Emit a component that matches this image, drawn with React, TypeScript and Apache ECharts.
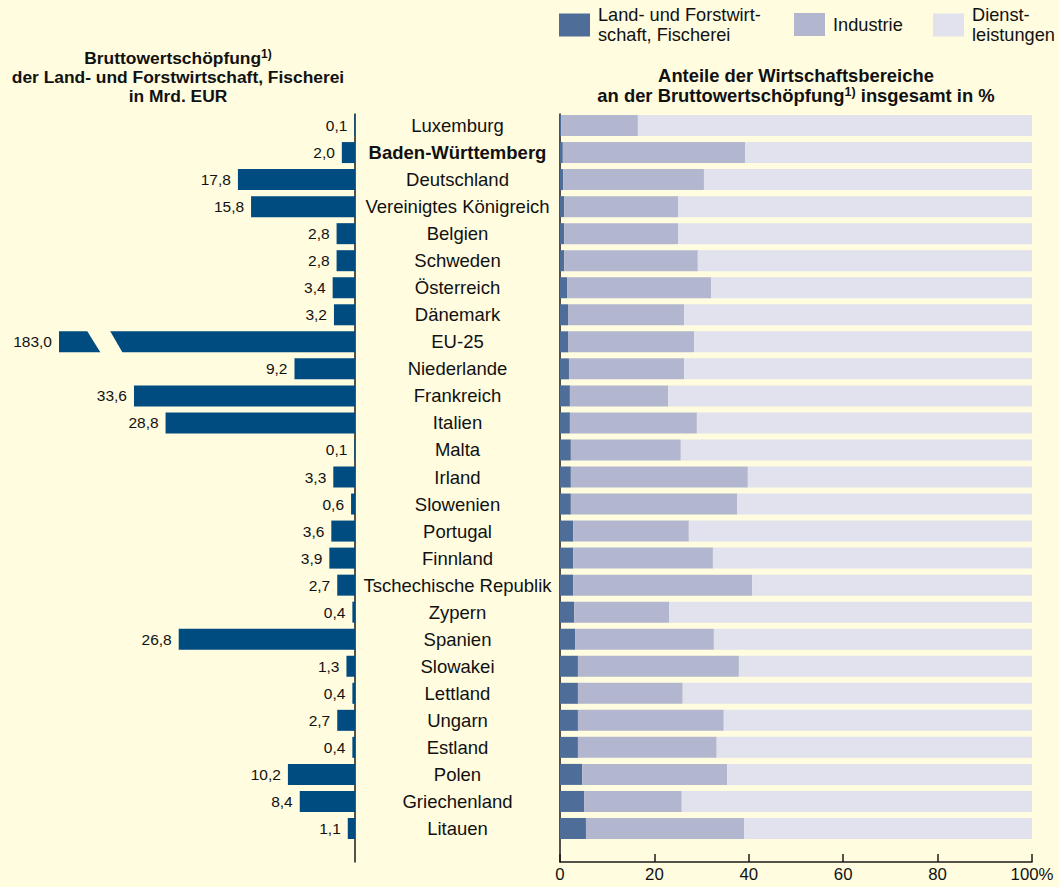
import React, { useEffect, useRef } from "react";
import * as echarts from "echarts";

const categories = [
  "Luxemburg",
  "Baden-Württemberg",
  "Deutschland",
  "Vereinigtes Königreich",
  "Belgien",
  "Schweden",
  "Österreich",
  "Dänemark",
  "EU-25",
  "Niederlande",
  "Frankreich",
  "Italien",
  "Malta",
  "Irland",
  "Slowenien",
  "Portugal",
  "Finnland",
  "Tschechische Republik",
  "Zypern",
  "Spanien",
  "Slowakei",
  "Lettland",
  "Ungarn",
  "Estland",
  "Polen",
  "Griechenland",
  "Litauen",
];

// Bruttowertschöpfung der Land- und Forstwirtschaft, Fischerei in Mrd. EUR
const valueMrd = [
  0.1, 2.0, 17.8, 15.8, 2.8, 2.8, 3.4, 3.2, 183.0, 9.2, 33.6, 28.8, 0.1, 3.3,
  0.6, 3.6, 3.9, 2.7, 0.4, 26.8, 1.3, 0.4, 2.7, 0.4, 10.2, 8.4, 1.1,
];

// Anteile in %
const landShare = [
  0.3, 0.6, 0.7, 0.9, 0.9, 0.9, 1.5, 1.7, 1.7, 1.9, 2.1, 2.1, 2.3, 2.3, 2.3,
  2.8, 2.8, 2.8, 3.0, 3.2, 3.8, 3.8, 3.8, 3.8, 4.7, 5.1, 5.5,
];
const industryShare = [
  16.2, 38.6, 29.8, 24.1, 24.1, 28.3, 30.5, 24.6, 26.7, 24.4, 20.8, 26.9, 23.3,
  37.5, 35.2, 24.5, 29.6, 37.9, 20.1, 29.4, 34.1, 22.2, 30.9, 29.4, 30.7, 20.7,
  33.5,
];
const serviceShare = [
  83.5, 60.8, 69.5, 75.0, 75.0, 70.8, 68.0, 73.7, 71.6, 73.7, 77.1, 71.0, 74.4,
  60.2, 62.5, 72.7, 67.6, 59.3, 76.9, 67.4, 62.1, 74.0, 65.3, 66.8, 64.6, 74.2,
  61.0,
];

const percentTicks = [0, 20, 40, 60, 80, 100];
const seriesNames = [
  "Land- und Forstwirtschaft, Fischerei",
  "Industrie",
  "Dienstleistungen",
];
const legendLabels: Record<string, string> = {
  "Land- und Forstwirtschaft, Fischerei": "Land- und Forstwirt-\nschaft, Fischerei",
  Industrie: "Industrie",
  Dienstleistungen: "Dienst-\nleistungen",
};

const LEFT_MAX = 45;
const BREAK_AT = 38;
const BG = "#fffce0";
const FONT = "'Liberation Sans', Arial, Helvetica, sans-serif";
const TXT = "#111111";
const AXIS = "#1a1a1a";
const C_LEFT = "#004b80";
const C_LAND = "#4f6d99";
const C_IND = "#b2b7cf";
const C_SERV = "#e1e2ee";

export default function App() {
  const ref = useRef<HTMLDivElement>(null);

  useEffect(() => {
    if (!ref.current) return;
    const chart = echarts.init(ref.current, undefined, { renderer: "svg" });

    const legendBase = {
      orient: "horizontal" as const,
      icon: "rect",
      itemWidth: 31,
      itemHeight: 23,
      padding: 0,
      selectedMode: false,
      formatter: (n: string) => legendLabels[n] ?? n,
    };

    const option: any = {
      animation: false,
      backgroundColor: BG,
      textStyle: { fontFamily: FONT },
      title: [
        {
          left: 178,
          top: 48,
          textAlign: "center",
          padding: 0,
          text:
            "{b|Bruttowertschöpfung}{s|1)}\n{b|der Land- und Forstwirtschaft, Fischerei}\n{b|in Mrd. EUR}",
          textStyle: {
            rich: {
              b: { fontSize: 17.4, fontWeight: "bold", fontFamily: FONT, color: TXT, lineHeight: 19 },
              s: { fontSize: 12, fontWeight: "bold", fontFamily: FONT, color: TXT, lineHeight: 12, verticalAlign: "top" },
            },
          },
        },
        {
          left: 796,
          top: 66,
          textAlign: "center",
          padding: 0,
          text:
            "{b|Anteile der Wirtschaftsbereiche}\n{b|an der Bruttowertschöpfung}{s|1)}{b| insgesamt in %}",
          textStyle: {
            rich: {
              b: { fontSize: 18.4, fontWeight: "bold", fontFamily: FONT, color: TXT, lineHeight: 19.8 },
              s: { fontSize: 12.5, fontWeight: "bold", fontFamily: FONT, color: TXT, lineHeight: 12, verticalAlign: "top" },
            },
          },
        },
      ],
      legend: [
        {
          ...legendBase,
          left: 559,
          top: -4,
          data: [seriesNames[0]],
          textStyle: { fontSize: 18.2, fontFamily: FONT, color: TXT, lineHeight: 19.5, padding: [19, 0, 0, 3] },
        },
        {
          ...legendBase,
          left: 794,
          top: 13,
          data: [seriesNames[1]],
          textStyle: { fontSize: 18.2, fontFamily: FONT, color: TXT, lineHeight: 19.5, padding: [0, 0, 0, 3] },
        },
        {
          ...legendBase,
          left: 933,
          top: -4,
          data: [seriesNames[2]],
          textStyle: { fontSize: 18.2, fontFamily: FONT, color: TXT, lineHeight: 19.5, padding: [19, 0, 0, 3] },
        },
      ],
      grid: [
        { left: 59, top: 112, width: 296, height: 730 },
        { left: 560, top: 112, width: 472, height: 730 },
        { left: 355, top: 114, width: 205, height: 748 },
      ],
      xAxis: [
        { gridIndex: 0, type: "value", inverse: true, min: 0, max: LEFT_MAX, show: false },
        {
          gridIndex: 1,
          type: "value",
          min: percentTicks[0],
          max: percentTicks[percentTicks.length - 1],
          interval: percentTicks[1] - percentTicks[0],
          offset: 20,
          axisLine: { show: true, lineStyle: { color: AXIS, width: 1.5 } },
          axisTick: { show: true, inside: true, length: 8, lineStyle: { color: AXIS, width: 1.5 } },
          axisLabel: {
            margin: 4,
            fontSize: 16.8,
            fontFamily: FONT,
            color: TXT,
            formatter: (v: number) => (v === 100 ? "100%" : String(v)),
          },
          splitLine: { show: false },
        },
        { gridIndex: 2, type: "value", min: 0, max: 1, show: false },
      ],
      yAxis: [
        {
          gridIndex: 0,
          type: "category",
          data: categories,
          inverse: true,
          position: "right",
          axisLine: { show: false },
          axisTick: { show: false },
          axisLabel: {
            align: "center",
            margin: 102.5,
            interval: 0,
            formatter: (v: string) => (v === "Baden-Württemberg" ? `{b|${v}}` : `{n|${v}}`),
            rich: {
              n: { fontSize: 18.5, fontFamily: FONT, color: TXT },
              b: { fontSize: 18.5, fontFamily: FONT, color: TXT, fontWeight: "bold" },
            },
          },
        },
        { gridIndex: 1, type: "category", data: categories, inverse: true, show: false },
        {
          gridIndex: 2,
          type: "value",
          min: 0,
          max: 1,
          position: "left",
          axisLine: { show: true, lineStyle: { color: AXIS, width: 1.5 } },
          axisTick: { show: false },
          axisLabel: { show: false },
          splitLine: { show: false },
        },
        {
          gridIndex: 2,
          type: "value",
          min: 0,
          max: 1,
          position: "right",
          axisLine: { show: true, lineStyle: { color: AXIS, width: 1.5 } },
          axisTick: { show: false },
          axisLabel: { show: false },
          splitLine: { show: false },
        },
      ],
      series: [
        {
          type: "bar",
          name: "Mrd. EUR",
          xAxisIndex: 0,
          yAxisIndex: 0,
          barWidth: 21,
          data: valueMrd.map((v) => Math.min(v, LEFT_MAX)),
          itemStyle: { color: C_LEFT },
          label: {
            show: true,
            position: "left",
            distance: 7,
            fontSize: 15.5,
            fontFamily: FONT,
            color: TXT,
            formatter: (p: any) => valueMrd[p.dataIndex].toFixed(1).replace(".", ","),
          },
          z: 2,
        },
        {
          type: "bar",
          name: seriesNames[0],
          stack: "share",
          xAxisIndex: 1,
          yAxisIndex: 1,
          barWidth: 21,
          data: landShare,
          itemStyle: { color: C_LAND },
        },
        {
          type: "bar",
          name: seriesNames[1],
          stack: "share",
          xAxisIndex: 1,
          yAxisIndex: 1,
          barWidth: 21,
          data: industryShare,
          itemStyle: { color: C_IND },
        },
        {
          type: "bar",
          name: seriesNames[2],
          stack: "share",
          xAxisIndex: 1,
          yAxisIndex: 1,
          barWidth: 21,
          data: serviceShare,
          itemStyle: { color: C_SERV },
        },
        {
          type: "line",
          name: "frame",
          xAxisIndex: 2,
          yAxisIndex: 2,
          data: [],
          silent: true,
        },
      ],
    };

    chart.setOption(option);

    // axis break mark on the EU-25 bar (value beyond axis range)
    const euIdx = categories.indexOf("EU-25");
    const pt = chart.convertToPixel({ seriesIndex: 0 }, [BREAK_AT, euIdx]) as number[];
    if (pt && isFinite(pt[0])) {
      const [cx, cy] = pt;
      chart.setOption({
        graphic: [
          {
            type: "polygon",
            z: 100,
            silent: true,
            shape: {
              points: [
                [cx - 18.4, cy - 11.5],
                [cx + 4.6, cy - 11.5],
                [cx + 17.9, cy + 11.5],
                [cx - 4.1, cy + 11.5],
              ],
            },
            style: { fill: BG },
          },
        ],
      });
    }

    return () => chart.dispose();
  }, []);

  return (
    <div
      ref={ref}
      style={{ position: "fixed", left: 0, top: 0, width: 1059, height: 887, background: BG }}
    />
  );
}
